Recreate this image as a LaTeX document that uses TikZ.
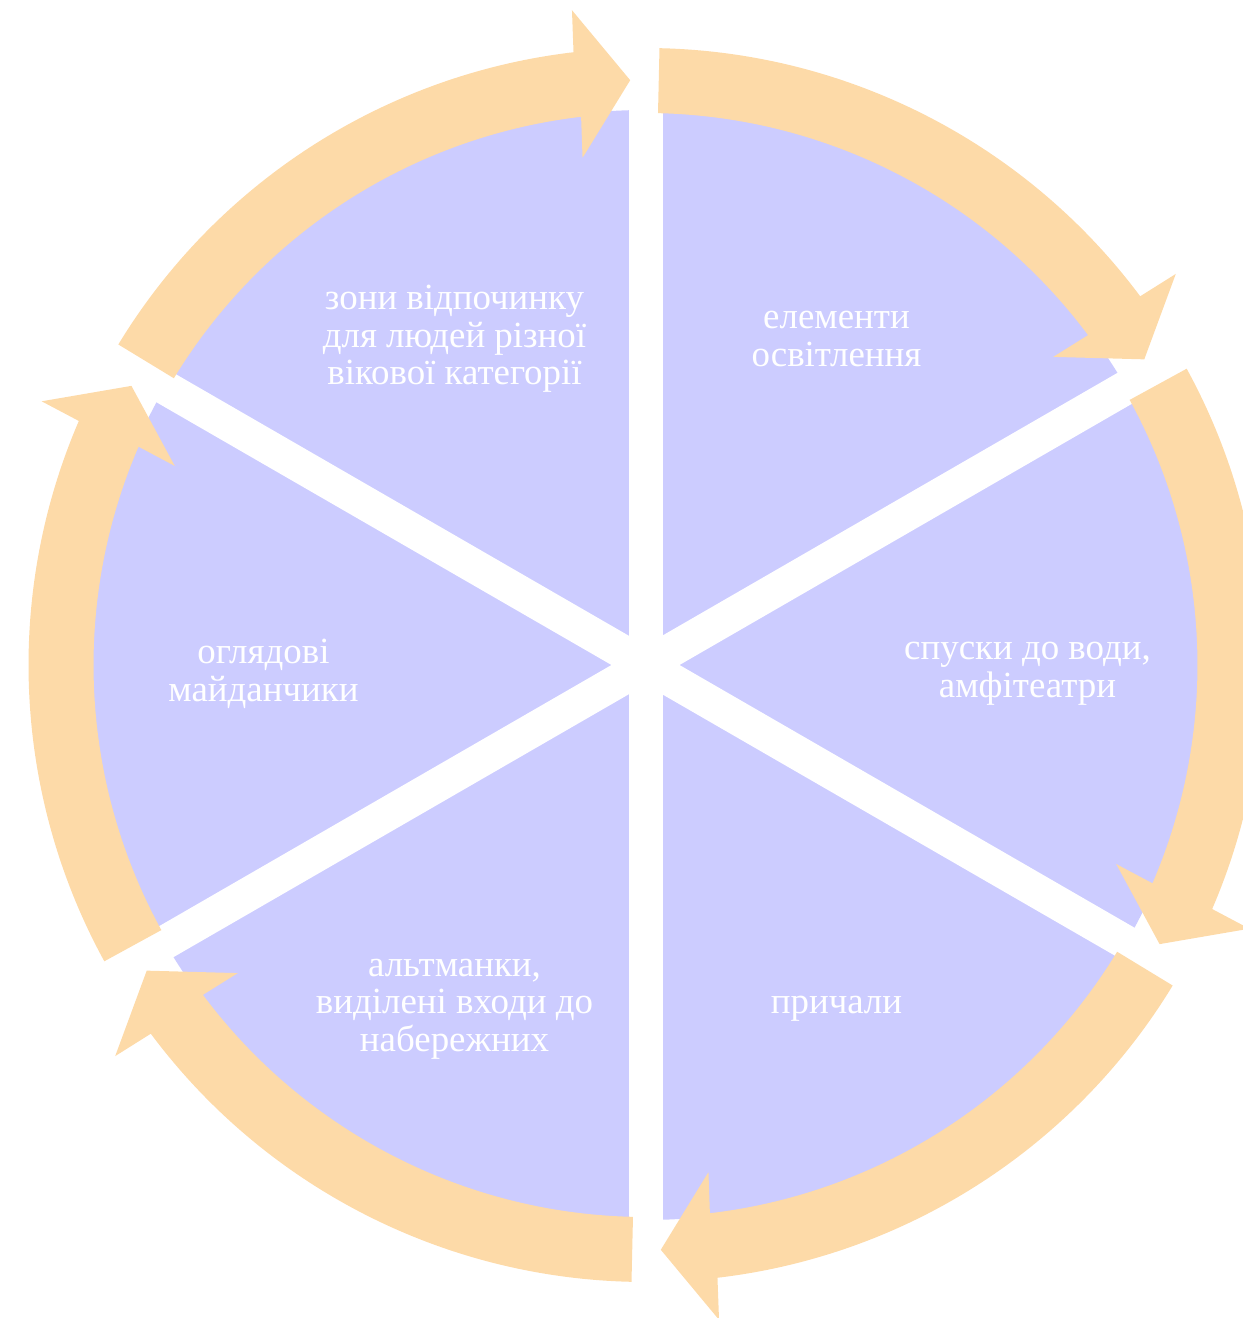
\documentclass[tikz,border=0pt]{standalone}
\usepackage{fontspec}
\setmainfont{Liberation Serif}
\usetikzlibrary{calc}
\definecolor{lavender}{RGB}{204,204,255}
\definecolor{peach}{RGB}{253,218,168}

\begin{document}
\begin{tikzpicture}[sectortext/.style={white, align=center, yshift=-0.18cm, font=\fontsize{21}{21.4}\selectfont}]
            \useasboundingbox (-12.91,-13.06) rectangle (11.95,13.3);
            \clip (-12.91,-13.06) rectangle (11.95,13.3);
            % pie and the white gaps
            \fill[lavender] (0,0) circle(11.1);
            \foreach \g in {90,30,-30}
                \draw[white, line width=0.68cm] (\g:11.3)--(\g+180:11.3);
            % curved arrows, clockwise
            \foreach \a in {90,30,-30,-90,-150,-210}{
                \pgfmathsetmacro{\tail}{\a-1.3}
                \pgfmathsetmacro{\base}{\a-60+6.7}
                \pgfmathsetmacro{\tip}{\a-60+1.5}
                \coordinate (bm) at (\base:11.7);
                \coordinate (tp) at (\tip:11.7);
                \fill[peach] (\tail:12.34) arc[start angle=\tail, end angle=\base, radius=12.34]
                    -- ($(bm)!1.48cm!90:(tp)$) -- (tp) -- ($(bm)!1.48cm!-90:(tp)$)
                    -- (\base:11.04) arc[start angle=\base, end angle=\tail, radius=11.04] -- cycle;
            }
            \node[sectortext] (rest) at (120:7.64 and 7.74) {зони відпочинку\\для людей різної\\вікової категорії};
            \node[sectortext] (light) at (60:7.64 and 7.74) {елементи\\освітлення};
            \node[sectortext] (descent) at (0:7.64 and 7.74) {спуски до води,\\амфітеатри};
            \node[sectortext] (pier) at (-60:7.64 and 7.74) {причали};
            \node[sectortext] (entry) at (-120:7.64 and 7.74) {альтманки,\\виділені входи до\\набережних};
            \node[sectortext] (view) at (180:7.64 and 7.74) {оглядові\\майданчики};
        \end{tikzpicture}
\end{document}
